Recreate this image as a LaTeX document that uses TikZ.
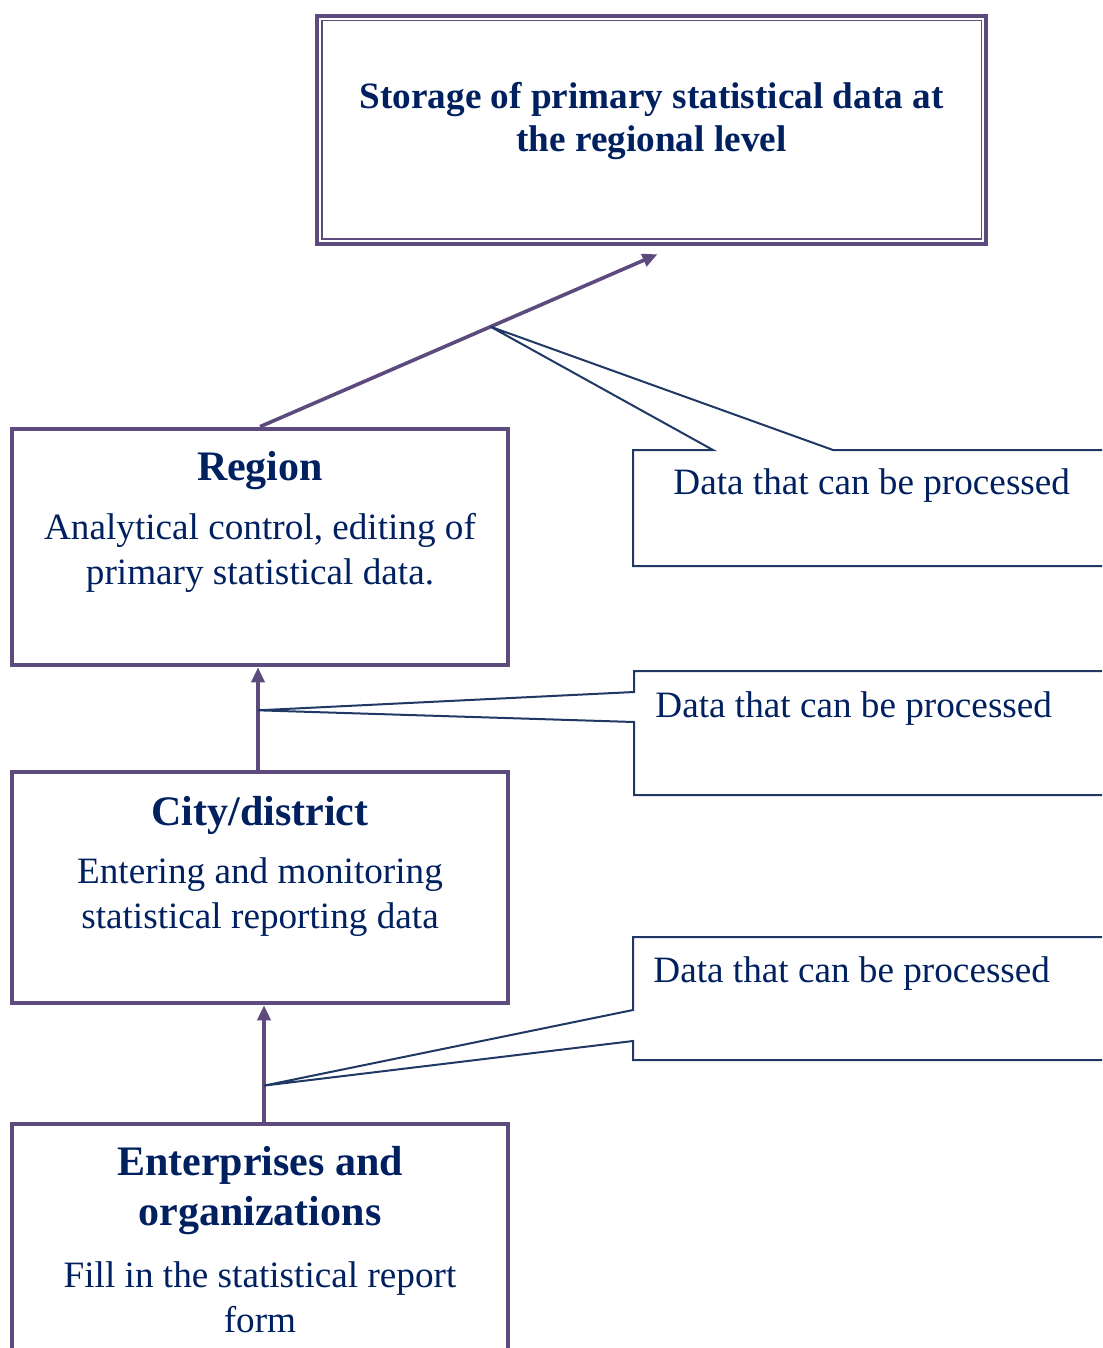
\documentclass[tikz,border=0pt]{standalone}
\usepackage{fontspec}
\setmainfont{Liberation Serif}
\usepackage{xcolor}
\usetikzlibrary{arrows.meta,positioning}
\definecolor{frame}{HTML}{5E4B7D}
\definecolor{ink}{HTML}{002060}
\definecolor{callink}{HTML}{1F3864}

\begin{document}
\begin{tikzpicture}[
  x=0.5pt, y=-0.5pt,
  tier/.style={draw=frame, line width=2.3pt, rectangle, minimum width=248pt, inner sep=0pt},
  tierhead/.style={text=ink, font=\fontsize{21}{25}\selectfont\bfseries, align=center, inner sep=0pt},
  tierbody/.style={text=ink, font=\fontsize{18.6}{22.5}\selectfont, align=center, inner sep=0pt},
  note/.style={rectangle, inner sep=0pt, outer sep=0pt, minimum width=250pt, anchor=north west},
  notetext/.style={text=ink, font=\fontsize{18.6}{22.5}\selectfont, anchor=west, inner sep=0pt},
  flow/.style={draw=frame, line width=1.8pt, -{Triangle[length=7.5pt,width=6.5pt]}},
  callline/.style={draw=callink, line width=1pt, line join=miter}
]
\useasboundingbox (0,0) rectangle (1102,1348);
\clip (0,0) rectangle (1102,1348);

% levels
\node[tier, minimum width=334.5pt, minimum height=114pt] (storage) at (651.5,130) {};
\draw[frame, line width=0.8pt] ([shift={(7,7)}]storage.north west) rectangle ([shift={(-7,-7)}]storage.south east);
\node[tierhead, font=\fontsize{18.6}{21.5}\selectfont\bfseries] (storageHead) at (651.5,121) {Storage of primary statistical data at\\the regional level};

\node[tier, minimum height=118pt] (region) at (260,547) {};
\node[tierhead] (regionHead) at (260,471) {Region};
\node[tierbody] (regionBody) at (260,553) {Analytical control, editing of\\primary statistical data.};

\node[tier, minimum height=115.5pt] (city) at (260,887.5) {};
\node[tierhead] (cityHead) at (260,815) {City/district};
\node[tierbody] (cityBody) at (260,897) {Entering and monitoring\\statistical reporting data};

\node[tier, minimum height=120.5pt] (firms) at (260,1244.5) {};
\node[tierhead] (firmsHead) at (260,1191) {Enterprises and\\organizations};
\node[tierbody] (firmsBody) at (260,1297) {Fill in the statistical report\\form};

% flows
\draw[flow] (region.north) -- coordinate[pos=0.58] (tipA) ([shift={(6,8)}]storage.south);
\draw[flow] ([xshift=-1pt]city.north) -- coordinate[pos=0.58] (tipB) ([xshift=-1pt]region.south);
\draw[flow] ([xshift=2pt]firms.north) -- coordinate[pos=0.31] (tipC) ([xshift=2pt]city.south);

% callouts
\node[note, minimum height=58pt] (noteA) at (633,450) {};
\node[notetext] (noteAText) at (673,486) {Data that can be processed};
\draw[callline] (noteA.north west) -- ([shift={(80,0)}]noteA.north west) -- (tipA)
  -- ([shift={(200,0)}]noteA.north west) -- (noteA.north east) -- (noteA.south east)
  -- (noteA.south west) -- cycle;

\node[note, minimum height=62pt] (noteB) at (634,671) {};
\node[notetext] (noteBText) at (655,709) {Data that can be processed};
\draw[callline] (noteB.north west) -- (noteB.north east) -- (noteB.south east)
  -- (noteB.south west) -- ([shift={(0,51)}]noteB.north west) -- (tipB)
  -- ([shift={(0,21)}]noteB.north west) -- cycle;

\node[note, minimum height=61.5pt] (noteC) at (633,937) {};
\node[notetext] (noteCText) at (653,974) {Data that can be processed};
\draw[callline] (noteC.north west) -- (noteC.north east) -- (noteC.south east)
  -- (noteC.south west) -- ([shift={(0,104)}]noteC.north west) -- (tipC)
  -- ([shift={(0,73)}]noteC.north west) -- cycle;
\end{tikzpicture}
\end{document}
